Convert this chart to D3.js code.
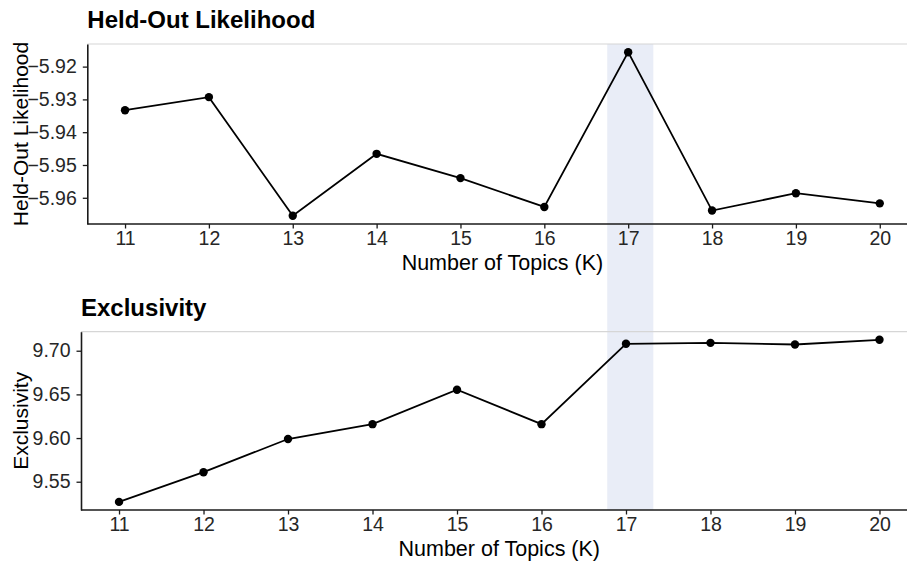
<!DOCTYPE html>
<html>
<head>
<meta charset="utf-8">
<script src="https://cdn.jsdelivr.net/npm/d3@7"></script>
<style>
  html, body { margin: 0; padding: 0; background: #fff; }
  svg { display: block; font-family: "Liberation Sans", Arial, Helvetica, sans-serif; }
</style>
</head>
<body>
<svg id="chart" width="907" height="564"></svg>
<script>
// ---- data ----
const topics = [11, 12, 13, 14, 15, 16, 17, 18, 19, 20];
const heldOut = [-5.9333, -5.9293, -5.9655, -5.9466, -5.9540, -5.9628, -5.9156, -5.9639, -5.9586, -5.9617];
const exclusivity = [9.5269, 9.5609, 9.5989, 9.6159, 9.6553, 9.6159, 9.7079, 9.7090, 9.7071, 9.7125];
const heldOutTicks = [-5.96, -5.95, -5.94, -5.93, -5.92];
const exclusivityTicks = [9.55, 9.60, 9.65, 9.70];
const xTicks = [11, 12, 13, 14, 15, 16, 17, 18, 19, 20];
const highlight = [16.75, 17.3];
const titles = ["Held-Out Likelihood", "Exclusivity"];
const yTitles = ["Held-Out Likelihood", "Exclusivity"];
const xTitle = "Number of Topics (K)";

const svg = d3.select("#chart");
const W = 907;

const panels = [
  { title: titles[0], yTitle: yTitles[0], values: heldOut, ticks: heldOutTicks, fmt: d3.format(".2f"),
    left: 87.3, right: 917.5, top: 44, bottom: 224 },
  { title: titles[1], yTitle: yTitles[1], values: exclusivity, ticks: exclusivityTicks, fmt: d3.format(".2f"),
    left: 81, right: 917.5, top: 331.7, bottom: 510 }
];

function expand(ext, f) {
  const s = ext[1] - ext[0];
  return [ext[0] - s * f, ext[1] + s * f];
}

panels.forEach(p => {
  p.x = d3.scaleLinear().domain(expand(d3.extent(topics), 0.05)).range([p.left, p.right]);
  p.y = d3.scaleLinear().domain(expand(d3.extent(p.values), 0.05)).range([p.bottom, p.top]);
});

// highlight band spanning both panels
const bx = panels[0].x;
svg.append("rect")
  .attr("x", bx(highlight[0]))
  .attr("width", bx(highlight[1]) - bx(highlight[0]))
  .attr("y", panels[0].top)
  .attr("height", panels[1].bottom - panels[0].top)
  .attr("fill", "#e9edf7");

panels.forEach(p => {
  const g = svg.append("g");

  // top border line (light gray)
  g.append("line")
    .attr("x1", p.left).attr("x2", W)
    .attr("y1", p.top).attr("y2", p.top)
    .attr("stroke", "#d6d6d6").attr("stroke-width", 1.2);

  // x axis
  const xa = g.append("g")
    .attr("transform", `translate(0,${p.bottom})`)
    .call(d3.axisBottom(p.x).tickValues(xTicks).tickFormat(d3.format("d")).tickSize(4.5).tickPadding(3).tickSizeOuter(0));
  xa.select(".domain").attr("stroke", "#1a1a1a").attr("stroke-width", 1.6)
    .attr("d", `M${p.left},0H${W}`);
  xa.selectAll(".tick line").attr("stroke", "#1a1a1a").attr("stroke-width", 1.3);
  xa.selectAll(".tick text").attr("font-size", 19.5).attr("fill", "#262626").attr("font-family", null);

  // y axis
  const ya = g.append("g")
    .attr("transform", `translate(${p.left},0)`)
    .call(d3.axisLeft(p.y).tickValues(p.ticks).tickFormat(p.fmt).tickSize(4.5).tickPadding(6).tickSizeOuter(0));
  ya.select(".domain").attr("stroke", "#1a1a1a").attr("stroke-width", 1.6);
  ya.selectAll(".tick line").attr("stroke", "#1a1a1a").attr("stroke-width", 1.3);
  ya.selectAll(".tick text").attr("font-size", 19.5).attr("fill", "#262626").attr("font-family", null);

  // line
  const data = topics.map((t, i) => ({ t, v: p.values[i] }));
  g.append("path")
    .datum(data)
    .attr("fill", "none")
    .attr("stroke", "#000")
    .attr("stroke-width", 1.8)
    .attr("d", d3.line().x(d => p.x(d.t)).y(d => p.y(d.v)));

  g.selectAll("circle.pt")
    .data(data)
    .join("circle")
    .attr("class", "pt")
    .attr("cx", d => p.x(d.t))
    .attr("cy", d => p.y(d.v))
    .attr("r", 4.2)
    .attr("fill", "#000");

  // panel title
  g.append("text")
    .attr("x", p.left)
    .attr("y", p.top - 16)
    .attr("font-size", 24)
    .attr("font-weight", "bold")
    .attr("fill", "#000")
    .text(p.title);

  // x title
  g.append("text")
    .attr("x", (p.left + p.right) / 2)
    .attr("y", p.bottom + 46)
    .attr("text-anchor", "middle")
    .attr("font-size", 21.5)
    .attr("fill", "#000")
    .text(xTitle);

  // y title
  g.append("text")
    .attr("transform", `translate(28,${(p.top + p.bottom) / 2}) rotate(-90)`)
    .attr("text-anchor", "middle")
    .attr("font-size", 21)
    .attr("fill", "#000")
    .text(p.yTitle);
});
</script>
</body>
</html>
